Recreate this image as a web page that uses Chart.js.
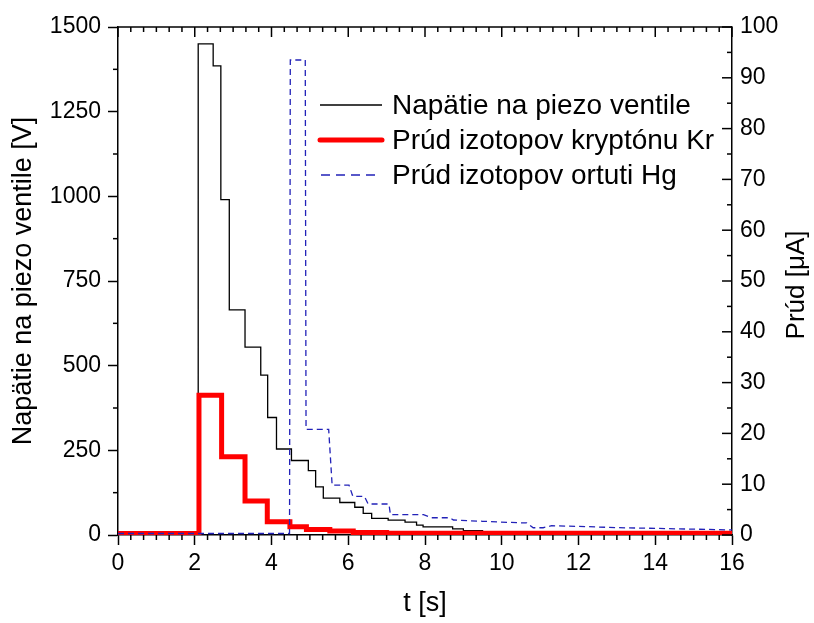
<!DOCTYPE html>
<html>
<head>
<meta charset="utf-8">
<script src="https://cdn.jsdelivr.net/npm/chart.js@4.4.1/dist/chart.umd.min.js"></script>
<style>
  html, body { margin: 0; padding: 0; background: #fff; }
  #wrap { width: 814px; height: 623px; }
</style>
</head>
<body>
<div id="wrap"><canvas id="pulseChart" width="814" height="623"></canvas></div>
<script>
// napatie na piezo ventile (left axis, V) - step starts
const voltT = [0, 2.09, 2.48, 2.68, 2.90, 3.31, 3.72, 3.90, 4.13, 4.52, 4.96, 5.15, 5.35, 5.78, 6.17, 6.39, 6.61, 7.04, 7.48, 7.78, 7.95, 8.72, 9.0, 9.5, 10.5, 16];
const voltV = [0, 1450, 1385, 990, 665, 555, 472, 347, 254, 220, 190, 142, 109, 96, 82, 64, 49, 44, 38, 29, 24, 18, 13, 9, 6, 6];

// prud izotopov kryptonu Kr (right axis, uA) - step starts
const krT = [0, 2.11, 2.70, 3.31, 3.89, 4.48, 4.91, 5.52, 6.13, 7.0, 16];
const krI = [0.3, 27.5, 15.4, 6.7, 2.6, 1.6, 1.1, 0.8, 0.5, 0.35, 0.3];

// prud izotopov ortuti Hg (right axis, uA)
const hgT = [0, 4.47, 4.49, 4.88, 4.90, 5.49, 5.58, 6.02, 6.12, 6.42, 6.52, 7.06, 7.10, 7.96, 8.17, 8.65, 8.74, 9.5, 10.48, 10.65, 10.82, 11.08, 11.30, 12.0, 13.0, 14.0, 15.0, 16.0];
const hgI = [0.3, 0.3, 93.5, 93.5, 20.8, 20.8, 9.8, 9.8, 7.6, 7.6, 6.1, 6.1, 4.0, 4.0, 3.4, 3.4, 2.95, 2.7, 2.4, 2.4, 1.43, 1.43, 1.83, 1.7, 1.45, 1.3, 1.15, 1.0];

const xTicks = [0, 2, 4, 6, 8, 10, 12, 14, 16];
const yTicks = [0, 250, 500, 750, 1000, 1250, 1500];
const y1Ticks = [0, 10, 20, 30, 40, 50, 60, 70, 80, 90, 100];

const labels = ['Napätie na piezo ventile', 'Prúd izotopov kryptónu Kr', 'Prúd izotopov ortuti Hg'];

const FONT = 'Arial, "Liberation Sans", sans-serif';
const BLUE = '#2222b8';

function pts(xs, ys) {
  return xs.map((t, i) => ({ x: t, y: ys[i] }));
}

// minor ticks, inward ticks on right/top, top border, right title, legend
const decorations = {
  id: 'decorations',
  afterDraw(chart) {
    const { ctx, chartArea: a, scales } = chart;
    const x = scales.x, y = scales.y, y1 = scales.y1;
    ctx.save();
    ctx.strokeStyle = '#000';
    ctx.lineWidth = 1.5;
    const seg = (x0, y0, x1, y1_) => { ctx.beginPath(); ctx.moveTo(x0, y0); ctx.lineTo(x1, y1_); ctx.stroke(); };

    seg(a.left, a.top, a.right, a.top);

    for (let i = 0; i <= 48; i++) {
      const px = x.getPixelForValue(i / 3);
      const major = i % 6 === 0;
      if (!major) seg(px, a.bottom, px, a.bottom + 5);
      seg(px, a.top, px, a.top + (major ? 10 : 5));
    }
    for (let v = 125; v < 1500; v += 250) {
      const py = y.getPixelForValue(v);
      seg(a.left - 5, py, a.left, py);
    }
    for (let v = 0; v <= 100; v += 5) {
      const py = y1.getPixelForValue(v);
      seg(a.right - (v % 10 === 0 ? 10 : 5), py, a.right, py);
    }

    // right axis title, reading bottom to top
    ctx.fillStyle = '#000';
    ctx.font = '26px ' + FONT;
    ctx.textAlign = 'center';
    ctx.textBaseline = 'middle';
    ctx.save();
    ctx.translate(797, (a.top + a.bottom) / 2 + 4);
    ctx.rotate(-Math.PI / 2);
    ctx.fillText('Prúd [μA]', 0, 0);
    ctx.restore();

    // legend
    ctx.font = '28px ' + FONT;
    const rows = [
      { y: 105, color: '#000', width: 1.3, dash: [], x0: 320, x1: 382 },
      { y: 140, color: '#ff0000', width: 5, dash: [], x0: 320, x1: 382 },
      { y: 175, color: BLUE, width: 1.3, dash: [9, 6], x0: 321, x1: 376 }
    ];
    rows.forEach((r, i) => {
      ctx.strokeStyle = r.color;
      ctx.lineWidth = r.width;
      ctx.lineCap = r.width > 2 ? 'round' : 'butt';
      ctx.setLineDash(r.dash);
      seg(r.x0, r.y, r.x1, r.y);
      ctx.setLineDash([]);
      ctx.textAlign = 'left';
      ctx.fillText(labels[i], 392, r.y + 1);
    });
    ctx.restore();
  }
};

const plain = v => String(v);

const ctx = document.getElementById('pulseChart').getContext('2d');
new Chart(ctx, {
  type: 'line',
  data: {
    datasets: [
      {
        label: labels[2],
        data: pts(hgT, hgI),
        yAxisID: 'y1',
        borderColor: BLUE,
        borderWidth: 1.3,
        borderDash: [6, 4],
        pointRadius: 0,
        fill: false,
        order: 0
      },
      {
        label: labels[1],
        data: pts(krT, krI),
        yAxisID: 'y1',
        stepped: 'before',
        borderColor: '#ff0000',
        borderWidth: 5,
        borderJoinStyle: 'miter',
        pointRadius: 0,
        fill: false,
        order: 1
      },
      {
        label: labels[0],
        data: pts(voltT, voltV),
        yAxisID: 'y',
        stepped: 'before',
        borderColor: '#000',
        borderWidth: 1.3,
        pointRadius: 0,
        fill: false,
        order: 2
      }
    ]
  },
  options: {
    responsive: false,
    animation: false,
    layout: { padding: { top: 27, left: 0, right: 0, bottom: 0 } },
    plugins: {
      legend: { display: false },
      tooltip: { enabled: false }
    },
    scales: {
      x: {
        type: 'linear',
        min: 0,
        max: 16,
        afterBuildTicks: s => { s.ticks = xTicks.map(v => ({ value: v })); },
        afterFit: s => { s.height = 88; },
        grid: { drawOnChartArea: false, tickLength: 10, tickColor: '#000', tickWidth: 1.5 },
        border: { color: '#000', width: 1.5 },
        ticks: { color: '#000', font: { family: FONT, size: 23 }, padding: 5, maxRotation: 0, callback: plain },
        title: { display: true, text: 't [s]', color: '#000', font: { family: FONT, size: 27 }, padding: { bottom: 3 } }
      },
      y: {
        position: 'left',
        min: 0,
        max: 1500,
        afterBuildTicks: s => { s.ticks = yTicks.map(v => ({ value: v })); },
        afterFit: s => { s.width = 118; },
        grid: { drawOnChartArea: false, tickLength: 10, tickColor: '#000', tickWidth: 1.5 },
        border: { color: '#000', width: 1.5 },
        ticks: { color: '#000', font: { family: FONT, size: 23 }, padding: 7, callback: plain },
        title: { display: true, text: 'Napätie na piezo ventile [V]', color: '#000', font: { family: FONT, size: 27 }, padding: { top: 7 } }
      },
      y1: {
        position: 'right',
        min: 0,
        max: 100,
        afterBuildTicks: s => { s.ticks = y1Ticks.map(v => ({ value: v })); },
        afterFit: s => { s.width = 82; },
        grid: { drawOnChartArea: false, drawTicks: false },
        border: { color: '#000', width: 1.5 },
        ticks: { color: '#000', font: { family: FONT, size: 23 }, padding: 8, callback: plain }
      }
    }
  },
  plugins: [decorations]
});
</script>
</body>
</html>
